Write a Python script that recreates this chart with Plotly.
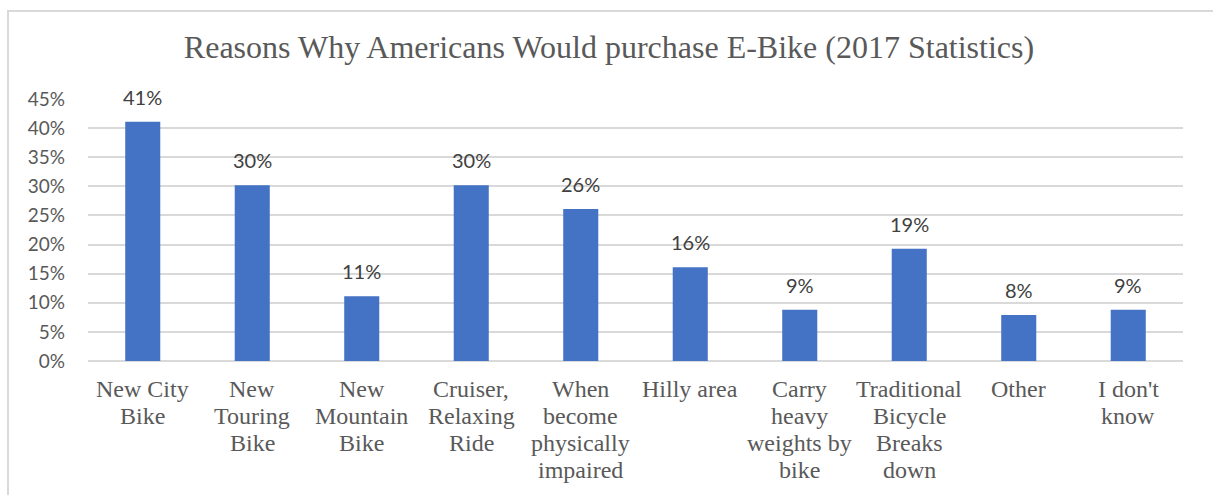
import plotly.graph_objects as go

categories = ["New City<br>Bike", "New<br>Touring<br>Bike", "New<br>Mountain<br>Bike",
              "Cruiser,<br>Relaxing<br>Ride", "When<br>become<br>physically<br>impaired",
              "Hilly area", "Carry<br>heavy<br>weights by<br>bike",
              "Traditional<br>Bicycle<br>Breaks<br>down", "Other", "I don't<br>know"]
values = [0.411, 0.302, 0.111, 0.302, 0.261, 0.161, 0.088, 0.193, 0.079, 0.088]
labels = ["41%", "30%", "11%", "30%", "26%", "16%", "9%", "19%", "8%", "9%"]
y_ticks = [0, 0.05, 0.10, 0.15, 0.20, 0.25, 0.30, 0.35, 0.40, 0.45]
y_ticktext = ["0%", "5%", "10%", "15%", "20%", "25%", "30%", "35%", "40%", "45%"]
title_text = "Reasons Why Americans Would purchase E-Bike (2017 Statistics)"

L, R, T, B = 88, 30, 99, 134
W, H = 1213, 495
pw, ph = W - L - R, H - T - B

fig = go.Figure(go.Bar(
    x=categories, y=values, marker=dict(color="#4472C4", line=dict(width=0)),
    width=0.32, hoverinfo="skip",
))

for c, v, t in zip(categories, values, labels):
    fig.add_annotation(x=c, y=v, text=t, showarrow=False, yshift=25,
                       font=dict(family="Lato", size=20, color="#404040"))

# category labels, line by line (Excel-like tighter line spacing)
for c in categories:
    for i, line in enumerate(c.split("<br>")):
        fig.add_annotation(x=c, y=0, text=line, showarrow=False, yanchor="middle",
                           yshift=-28 - 27 * i,
                           font=dict(family="Liberation Serif", size=24, color="#595959"))

fig.update_layout(
    width=W, height=H,
    margin=dict(l=L, r=R, t=T, b=B),
    paper_bgcolor="white", plot_bgcolor="white",
    showlegend=False,
    title=dict(text=title_text, x=(609 - L) / pw, xref="paper", xanchor="center",
               y=1 - 47 / H, yanchor="middle",
               font=dict(family="Liberation Serif", size=32, color="#595959")),
    xaxis=dict(showticklabels=False, showgrid=False, ticks="", showline=False),
    yaxis=dict(range=[0, 0.45], tickvals=y_ticks, ticktext=y_ticktext,
               tickfont=dict(family="Lato", size=19, color="#595959"),
               gridcolor="#d9d9d9", gridwidth=1.5, zeroline=True,
               zerolinecolor="#d9d9d9", zerolinewidth=1.5, ticks="",
               ticklabelstandoff=22, showline=False),
)

fig.add_shape(type="path", xref="paper", yref="paper",
              path=f"M {(1230 - L)/pw} {(H - 11 - B)/ph} L {(8 - L)/pw} {(H - 11 - B)/ph} L {(8 - L)/pw} {-(B + 20)/ph}",
              line=dict(color="#d9d9d9", width=2), layer="below")

fig.write_html("out.html")
